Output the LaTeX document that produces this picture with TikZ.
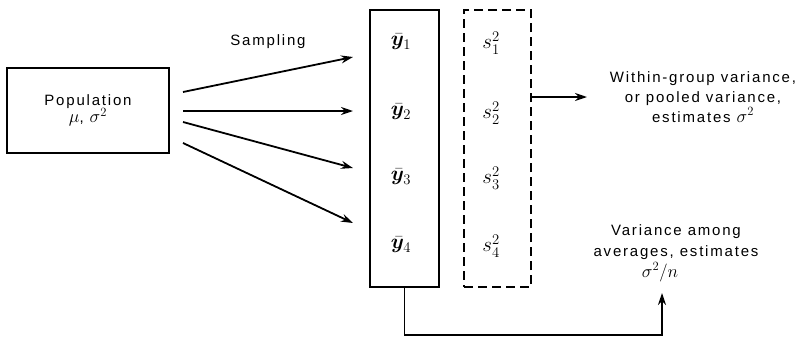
\RequirePackage{fix-cm}
\documentclass[tikz,border=0pt]{standalone}
\usepackage{amsmath,bm}
\usepackage{fontspec}
\setmainfont{Liberation Sans}[LetterSpace=12]
\usetikzlibrary{arrows.meta}
\newcommand{\mathbig}[1]{{\fontsize{18}{20}\selectfont$#1$}}
\begin{document}
\begin{tikzpicture}[x=1pt,y=-1pt,
  box/.style={draw,line width=1.3pt,inner sep=0pt},
  arr/.style={line width=1.8pt,-{Stealth[length=12pt,width=8pt,inset=4pt]}},
  txt/.style={font=\fontsize{15}{20}\selectfont,align=center,inner sep=0pt},
  lab/.style={font=\fontsize{21}{22}\selectfont,inner sep=0pt},
]
\useasboundingbox (0,0) rectangle (803,338);
% population
\node[box,txt,minimum width=162pt,minimum height=85pt] (pop) at (88,110.5) {Population\\[-3pt]\mathbig{\mu}, \mathbig{\sigma^2}};
% start / end points of sampling arrows
\coordinate (s1) at (183,92);  \coordinate (e1) at (353,57);
\coordinate (s2) at (183,111); \coordinate (e2) at (353,111);
\coordinate (s3) at (183,122); \coordinate (e3) at (353,168);
\coordinate (s4) at (183,143); \coordinate (e4) at (353,223);
\foreach \i in {1,...,4} {\draw[arr] (s\i) -- (e\i);}
\node[txt] (samp) at (268,42) {Sampling};
% boxes
\node[box,minimum width=69pt,minimum height=277pt] (ybox) at (404.5,148.5) {};
\node[box,line width=1.1pt,dash pattern=on 9pt off 5pt,minimum width=67pt,minimum height=277pt] (sbox) at (497.5,148.5) {};
% labels
\node[lab] (y1) at (401,42)  {$\bar{\bm{y}}_1$};
\node[lab] (y2) at (401,112) {$\bar{\bm{y}}_2$};
\node[lab] (y3) at (401,177) {$\bar{\bm{y}}_3$};
\node[lab] (y4) at (401,245) {$\bar{\bm{y}}_4$};
\node[lab] (v1) at (491,43)  {$s_1^2$};
\node[lab] (v2) at (491,113) {$s_2^2$};
\node[lab] (v3) at (491,178) {$s_3^2$};
\node[lab] (v4) at (491,246) {$s_4^2$};
% within-group
\coordinate (w) at (587,97);
\draw[arr] (sbox.east |- w) -- (w);
\node[txt] (within) at (703,97) {Within-group variance,\\or pooled variance,\\estimates \mathbig{\sigma^2}};
% among averages
\coordinate (v) at (662,293);
\draw[arr] (ybox.south) -- ++(0,47) -| (v);
\node[txt,font=\fontsize{15}{21}\selectfont] (among) at (676,253) {Variance among\\averages, estimates\\\mathbig{\sigma^2/n}\hspace*{32pt}};
\end{tikzpicture}
\end{document}
